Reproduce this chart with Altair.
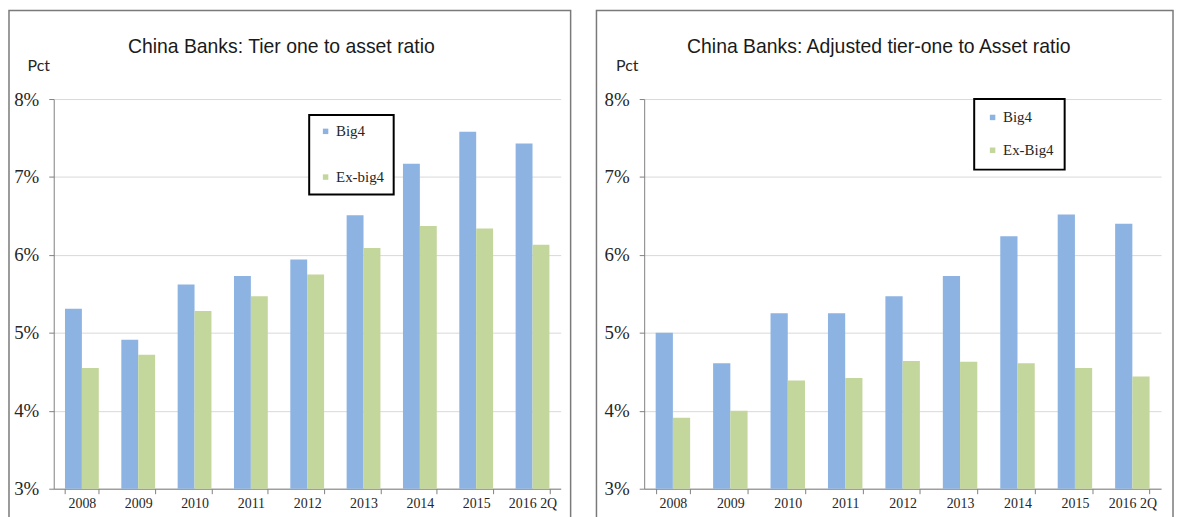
import altair as alt
import pandas as pd

categories = ["2008", "2009", "2010", "2011", "2012", "2013", "2014", "2015", "2016 2Q"]

left_title = "China Banks: Tier one to asset ratio"
left_series = ["Big4", "Ex-big4"]
left_big4 = [5.31, 4.91, 5.62, 5.73, 5.94, 6.51, 7.17, 7.58, 7.43]
left_ex = [4.55, 4.72, 5.28, 5.47, 5.75, 6.09, 6.37, 6.34, 6.13]

right_title = "China Banks: Adjusted tier-one to Asset ratio"
right_series = ["Big4", "Ex-Big4"]
right_big4 = [5.00, 4.61, 5.25, 5.25, 5.47, 5.73, 6.24, 6.52, 6.40]
right_ex = [3.91, 4.00, 4.39, 4.42, 4.64, 4.63, 4.61, 4.55, 4.44]

y_unit = "Pct"
y_ticks = [3, 4, 5, 6, 7, 8]
colors = ["#8DB3E2", "#C3D69B"]

SERIF = "Liberation Serif"
SANS = "Liberation Sans"
H = 392


def panel(title, series, big4, ex, w, legend_x, legend_y, legend_pad, row_pad,
          border_x, border_x2, title_x, pct_x):
    df = pd.DataFrame({
        "category": categories * 2,
        "series": [series[0]] * len(categories) + [series[1]] * len(categories),
        "value": big4 + ex,
    })
    border = alt.Chart(pd.DataFrame({"b": [0]})).mark_rect(
        fill="transparent", stroke="#7a7a7a", strokeWidth=1.5
    ).encode(
        x=alt.value(border_x), x2=alt.value(border_x2),
        y=alt.value(-89), y2=alt.value(440),
    )
    bars = alt.Chart(df).mark_bar().encode(
        x=alt.X("category:N", sort=categories,
                scale=alt.Scale(paddingInner=0.4, paddingOuter=0.2),
                axis=alt.Axis(title=None, labelAngle=0, tickBand="extent", tickSize=5,
                              domainColor="#808080", tickColor="#808080",
                              labelFont=SERIF, labelFontSize=14, labelColor="#262626",
                              labelPadding=3)),
        xOffset=alt.XOffset("series:N", sort=series,
                            scale=alt.Scale(paddingInner=0, paddingOuter=0)),
        y=alt.Y("value:Q", scale=alt.Scale(domain=[3, 8], zero=False, nice=False),
                axis=alt.Axis(values=y_ticks, labelExpr="datum.value + '%'", title=None,
                              grid=True, gridColor="#d9d9d9", domainColor="#808080",
                              tickColor="#808080", tickSize=5, labelFont=SERIF,
                              labelFontSize=19, labelColor="#262626", labelPadding=10)),
        y2=alt.datum(3),
        color=alt.Color("series:N", sort=series,
                        scale=alt.Scale(domain=series, range=colors),
                        legend=alt.Legend(title=None, orient="none", legendX=legend_x,
                                          legendY=legend_y, direction="vertical",
                                          strokeColor="#000000",
                                          fillColor="white",
                                          padding=legend_pad, rowPadding=row_pad,
                                          symbolType="square", symbolSize=30,
                                          symbolStrokeWidth=0, labelOffset=3,
                                          labelFont=SERIF, labelFontSize=15,
                                          labelColor="#262626")),
    )
    ttl = alt.Chart(pd.DataFrame({"t": [title]})).mark_text(
        font=SANS, fontSize=19.5, color="#1a1a1a", align="center", baseline="middle"
    ).encode(text="t:N", x=alt.value(title_x), y=alt.value(-52))
    pct = alt.Chart(pd.DataFrame({"t": [y_unit]})).mark_text(
        font="Lato", fontSize=16, color="#262626", align="center", baseline="middle"
    ).encode(text="t:N", x=alt.value(pct_x), y=alt.value(-33))
    return alt.layer(border, bars, ttl, pct).properties(width=w, height=H)


left = panel(left_title, left_series, left_big4, left_ex, 510, 257, 16, 9, 30,
             -45, 520, 229, -15)
right = panel(right_title, right_series, right_big4, right_ex, 520, 332, 0, 11, 17,
              -48, 532, 236, -17)

chart = alt.hconcat(left, right, spacing=24).resolve_scale(
    color="independent", xOffset="independent"
).resolve_legend(color="independent").configure_view(strokeWidth=0).configure_legend(
    strokeWidth=2
).properties(
    padding={"left": 0, "top": 0, "right": 0, "bottom": 0}
)

chart.save("out.html", embed_options={"renderer": "svg", "actions": False})
